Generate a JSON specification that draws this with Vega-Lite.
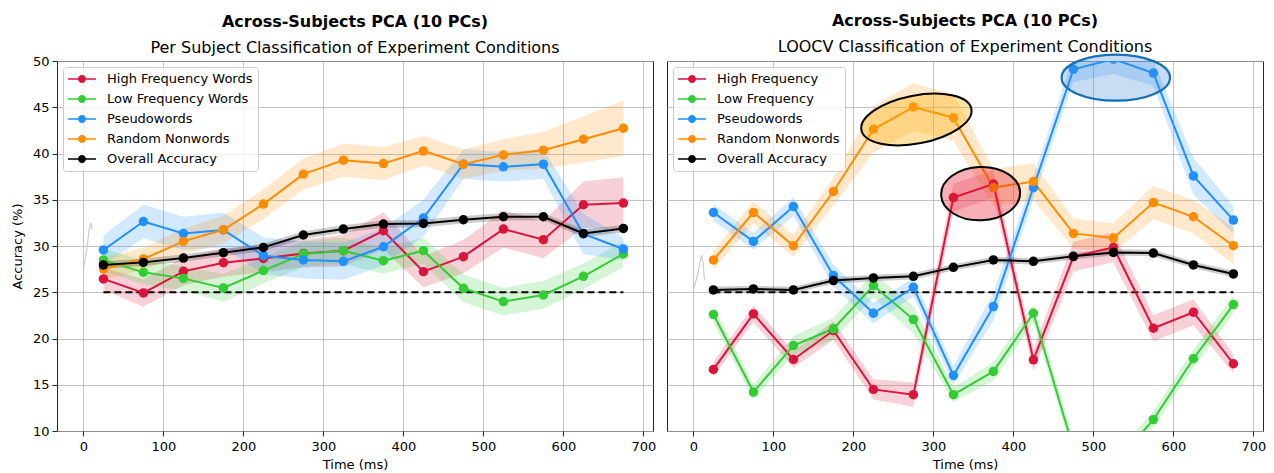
{
  "$schema": "https://vega.github.io/schema/vega-lite/v6.json",
  "padding": {"left": 10, "top": 12, "right": 6, "bottom": 0},
  "config": {
    "font": "DejaVu Sans",
    "view": {"stroke": "#262626", "strokeWidth": 1},
    "axis": {
      "labelFont": "DejaVu Sans", "labelFontSize": 13, "labelColor": "black",
      "titleFont": "DejaVu Sans", "titleFontSize": 13, "titleFontWeight": "normal", "titleColor": "black",
      "tickColor": "#262626", "tickSize": 5, "labelPadding": 3, "domain": false,
      "gridColor": "#b0b0b0", "gridOpacity": 0.75, "gridWidth": 1
    },
    "axisX": {"labelPadding": 4},
    "legend": {
      "orient": "top-left", "offset": 6, "labelFont": "DejaVu Sans", "labelFontSize": 13, "labelColor": "black",
      "fillColor": "rgba(255,255,255,0.8)", "strokeColor": "#cccccc", "cornerRadius": 3, "padding": 5,
      "rowPadding": 6, "labelOffset": 25, "labelLimit": 400,
      "symbolType": "M-1,-0.107H3V0.107H-1Z M1.571,0C1.571,0.316,1.316,0.571,1,0.571C0.684,0.571,0.429,0.316,0.429,0C0.429,-0.316,0.684,-0.571,1,-0.571C1.316,-0.571,1.571,-0.316,1.571,0Z",
      "symbolSize": 196, "symbolStrokeWidth": 0, "symbolOpacity": 1
    },
    "title": {"font": "DejaVu Sans", "fontSize": 16, "fontWeight": "bold", "color": "black", "subtitleFont": "DejaVu Sans", "subtitleFontSize": 16, "subtitleColor": "black", "anchor": "middle", "frame": "group", "subtitlePadding": 10}
  },
  "datasets": {
    "series": [
      {"p":"L","s":"High Frequency Words","x":25,"y":26.44,"lo":25.24,"hi":27.64},
      {"p":"L","s":"High Frequency Words","x":75,"y":24.93,"lo":23.43,"hi":26.43},
      {"p":"L","s":"High Frequency Words","x":125,"y":27.26,"lo":25.76,"hi":28.76},
      {"p":"L","s":"High Frequency Words","x":175,"y":28.2,"lo":26.7,"hi":29.7},
      {"p":"L","s":"High Frequency Words","x":225,"y":28.66,"lo":27.16,"hi":30.16},
      {"p":"L","s":"High Frequency Words","x":275,"y":29.2,"lo":27.7,"hi":30.7},
      {"p":"L","s":"High Frequency Words","x":325,"y":29.49,"lo":27.79,"hi":31.19},
      {"p":"L","s":"High Frequency Words","x":375,"y":31.65,"lo":29.65,"hi":33.65},
      {"p":"L","s":"High Frequency Words","x":425,"y":27.23,"lo":25.53,"hi":28.93},
      {"p":"L","s":"High Frequency Words","x":475,"y":28.85,"lo":27.05,"hi":30.65},
      {"p":"L","s":"High Frequency Words","x":525,"y":31.83,"lo":29.83,"hi":33.83},
      {"p":"L","s":"High Frequency Words","x":575,"y":30.68,"lo":28.68,"hi":32.68},
      {"p":"L","s":"High Frequency Words","x":625,"y":34.46,"lo":31.96,"hi":36.96},
      {"p":"L","s":"High Frequency Words","x":675,"y":34.64,"lo":31.84,"hi":37.44},
      {"p":"L","s":"Low Frequency Words","x":25,"y":28.49,"lo":27.29,"hi":29.69},
      {"p":"L","s":"Low Frequency Words","x":75,"y":27.15,"lo":25.85,"hi":28.45},
      {"p":"L","s":"Low Frequency Words","x":125,"y":26.5,"lo":25.2,"hi":27.8},
      {"p":"L","s":"Low Frequency Words","x":175,"y":25.47,"lo":23.97,"hi":26.97},
      {"p":"L","s":"Low Frequency Words","x":225,"y":27.34,"lo":25.94,"hi":28.74},
      {"p":"L","s":"Low Frequency Words","x":275,"y":29.14,"lo":27.74,"hi":30.54},
      {"p":"L","s":"Low Frequency Words","x":325,"y":29.49,"lo":28.09,"hi":30.89},
      {"p":"L","s":"Low Frequency Words","x":375,"y":28.41,"lo":27.01,"hi":29.81},
      {"p":"L","s":"Low Frequency Words","x":425,"y":29.49,"lo":28.09,"hi":30.89},
      {"p":"L","s":"Low Frequency Words","x":475,"y":25.43,"lo":23.93,"hi":26.93},
      {"p":"L","s":"Low Frequency Words","x":525,"y":23.99,"lo":22.49,"hi":25.49},
      {"p":"L","s":"Low Frequency Words","x":575,"y":24.71,"lo":23.21,"hi":26.21},
      {"p":"L","s":"Low Frequency Words","x":625,"y":26.72,"lo":25.32,"hi":28.12},
      {"p":"L","s":"Low Frequency Words","x":675,"y":29.14,"lo":27.74,"hi":30.54},
      {"p":"L","s":"Pseudowords","x":25,"y":29.57,"lo":27.97,"hi":31.17},
      {"p":"L","s":"Pseudowords","x":75,"y":32.65,"lo":30.85,"hi":34.45},
      {"p":"L","s":"Pseudowords","x":125,"y":31.36,"lo":29.56,"hi":33.16},
      {"p":"L","s":"Pseudowords","x":175,"y":31.73,"lo":29.83,"hi":33.63},
      {"p":"L","s":"Pseudowords","x":225,"y":28.95,"lo":26.95,"hi":30.95},
      {"p":"L","s":"Pseudowords","x":275,"y":28.49,"lo":26.49,"hi":30.49},
      {"p":"L","s":"Pseudowords","x":325,"y":28.34,"lo":26.34,"hi":30.34},
      {"p":"L","s":"Pseudowords","x":375,"y":29.92,"lo":27.92,"hi":31.92},
      {"p":"L","s":"Pseudowords","x":425,"y":33.02,"lo":31.02,"hi":35.02},
      {"p":"L","s":"Pseudowords","x":475,"y":38.85,"lo":37.25,"hi":40.45},
      {"p":"L","s":"Pseudowords","x":525,"y":38.56,"lo":36.96,"hi":40.16},
      {"p":"L","s":"Pseudowords","x":575,"y":38.85,"lo":37.25,"hi":40.45},
      {"p":"L","s":"Pseudowords","x":625,"y":31.3,"lo":29.1,"hi":33.5},
      {"p":"L","s":"Pseudowords","x":675,"y":29.68,"lo":28.48,"hi":30.88},
      {"p":"L","s":"Random Nonwords","x":25,"y":27.52,"lo":26.32,"hi":28.72},
      {"p":"L","s":"Random Nonwords","x":75,"y":28.6,"lo":27.4,"hi":29.8},
      {"p":"L","s":"Random Nonwords","x":125,"y":30.5,"lo":29.1,"hi":31.9},
      {"p":"L","s":"Random Nonwords","x":175,"y":31.76,"lo":30.26,"hi":33.26},
      {"p":"L","s":"Random Nonwords","x":225,"y":34.53,"lo":32.93,"hi":36.13},
      {"p":"L","s":"Random Nonwords","x":275,"y":37.77,"lo":36.07,"hi":39.47},
      {"p":"L","s":"Random Nonwords","x":325,"y":39.28,"lo":37.48,"hi":41.08},
      {"p":"L","s":"Random Nonwords","x":375,"y":38.91,"lo":37.11,"hi":40.71},
      {"p":"L","s":"Random Nonwords","x":425,"y":40.28,"lo":38.68,"hi":41.88},
      {"p":"L","s":"Random Nonwords","x":475,"y":38.85,"lo":37.25,"hi":40.45},
      {"p":"L","s":"Random Nonwords","x":525,"y":39.85,"lo":38.15,"hi":41.55},
      {"p":"L","s":"Random Nonwords","x":575,"y":40.36,"lo":38.36,"hi":42.36},
      {"p":"L","s":"Random Nonwords","x":625,"y":41.54,"lo":39.04,"hi":44.04},
      {"p":"L","s":"Random Nonwords","x":675,"y":42.73,"lo":39.73,"hi":45.73},
      {"p":"L","s":"Overall Accuracy","x":25,"y":27.95,"lo":27.55,"hi":28.35},
      {"p":"L","s":"Overall Accuracy","x":75,"y":28.23,"lo":27.83,"hi":28.63},
      {"p":"L","s":"Overall Accuracy","x":125,"y":28.7,"lo":28.3,"hi":29.1},
      {"p":"L","s":"Overall Accuracy","x":175,"y":29.28,"lo":28.88,"hi":29.68},
      {"p":"L","s":"Overall Accuracy","x":225,"y":29.85,"lo":29.45,"hi":30.25},
      {"p":"L","s":"Overall Accuracy","x":275,"y":31.19,"lo":30.79,"hi":31.59},
      {"p":"L","s":"Overall Accuracy","x":325,"y":31.83,"lo":31.43,"hi":32.23},
      {"p":"L","s":"Overall Accuracy","x":375,"y":32.37,"lo":31.97,"hi":32.77},
      {"p":"L","s":"Overall Accuracy","x":425,"y":32.44,"lo":32.04,"hi":32.84},
      {"p":"L","s":"Overall Accuracy","x":475,"y":32.84,"lo":32.44,"hi":33.24},
      {"p":"L","s":"Overall Accuracy","x":525,"y":33.16,"lo":32.76,"hi":33.56},
      {"p":"L","s":"Overall Accuracy","x":575,"y":33.16,"lo":32.76,"hi":33.56},
      {"p":"L","s":"Overall Accuracy","x":625,"y":31.36,"lo":30.96,"hi":31.76},
      {"p":"L","s":"Overall Accuracy","x":675,"y":31.9,"lo":31.5,"hi":32.3},
      {"p":"R","s":"High Frequency","x":25,"y":16.66,"lo":15.86,"hi":17.46},
      {"p":"R","s":"High Frequency","x":75,"y":22.66,"lo":21.76,"hi":23.56},
      {"p":"R","s":"High Frequency","x":125,"y":17.73,"lo":16.83,"hi":18.63},
      {"p":"R","s":"High Frequency","x":175,"y":20.86,"lo":19.86,"hi":21.86},
      {"p":"R","s":"High Frequency","x":225,"y":14.5,"lo":13.4,"hi":15.6},
      {"p":"R","s":"High Frequency","x":275,"y":13.93,"lo":12.63,"hi":15.23},
      {"p":"R","s":"High Frequency","x":325,"y":35.24,"lo":33.74,"hi":36.74},
      {"p":"R","s":"High Frequency","x":375,"y":36.69,"lo":35.19,"hi":38.19},
      {"p":"R","s":"High Frequency","x":425,"y":17.7,"lo":16.5,"hi":18.9},
      {"p":"R","s":"High Frequency","x":475,"y":28.85,"lo":27.25,"hi":30.45},
      {"p":"R","s":"High Frequency","x":525,"y":29.85,"lo":28.25,"hi":31.45},
      {"p":"R","s":"High Frequency","x":575,"y":21.11,"lo":19.71,"hi":22.51},
      {"p":"R","s":"High Frequency","x":625,"y":22.84,"lo":21.44,"hi":24.24},
      {"p":"R","s":"High Frequency","x":675,"y":17.27,"lo":16.27,"hi":18.27},
      {"p":"R","s":"Low Frequency","x":25,"y":22.59,"lo":21.69,"hi":23.49},
      {"p":"R","s":"Low Frequency","x":75,"y":14.21,"lo":13.41,"hi":15.01},
      {"p":"R","s":"Low Frequency","x":125,"y":19.24,"lo":18.24,"hi":20.24},
      {"p":"R","s":"Low Frequency","x":175,"y":21.05,"lo":19.85,"hi":22.25},
      {"p":"R","s":"Low Frequency","x":225,"y":25.72,"lo":24.42,"hi":27.02},
      {"p":"R","s":"Low Frequency","x":275,"y":22.05,"lo":20.55,"hi":23.55},
      {"p":"R","s":"Low Frequency","x":325,"y":13.93,"lo":13.13,"hi":14.73},
      {"p":"R","s":"Low Frequency","x":375,"y":16.44,"lo":15.44,"hi":17.44},
      {"p":"R","s":"Low Frequency","x":425,"y":22.73,"lo":21.73,"hi":23.73},
      {"p":"R","s":"Low Frequency","x":475,"y":8.1,"lo":7.1,"hi":9.1},
      {"p":"R","s":"Low Frequency","x":525,"y":6.3,"lo":5.3,"hi":7.3},
      {"p":"R","s":"Low Frequency","x":575,"y":11.23,"lo":10.33,"hi":12.13},
      {"p":"R","s":"Low Frequency","x":625,"y":17.81,"lo":16.81,"hi":18.81},
      {"p":"R","s":"Low Frequency","x":675,"y":23.67,"lo":22.67,"hi":24.67},
      {"p":"R","s":"Pseudowords","x":25,"y":33.62,"lo":32.72,"hi":34.52},
      {"p":"R","s":"Pseudowords","x":75,"y":30.5,"lo":29.6,"hi":31.4},
      {"p":"R","s":"Pseudowords","x":125,"y":34.27,"lo":33.27,"hi":35.27},
      {"p":"R","s":"Pseudowords","x":175,"y":26.8,"lo":25.6,"hi":28.0},
      {"p":"R","s":"Pseudowords","x":225,"y":22.73,"lo":21.63,"hi":23.83},
      {"p":"R","s":"Pseudowords","x":275,"y":25.53,"lo":24.53,"hi":26.53},
      {"p":"R","s":"Pseudowords","x":325,"y":16.0,"lo":15.0,"hi":17.0},
      {"p":"R","s":"Pseudowords","x":375,"y":23.45,"lo":21.95,"hi":24.95},
      {"p":"R","s":"Pseudowords","x":425,"y":36.32,"lo":35.12,"hi":37.52},
      {"p":"R","s":"Pseudowords","x":475,"y":49.1,"lo":47.7,"hi":50.5},
      {"p":"R","s":"Pseudowords","x":525,"y":50.2,"lo":48.6,"hi":51.8},
      {"p":"R","s":"Pseudowords","x":575,"y":48.7,"lo":47.3,"hi":50.1},
      {"p":"R","s":"Pseudowords","x":625,"y":37.58,"lo":35.58,"hi":39.58},
      {"p":"R","s":"Pseudowords","x":675,"y":32.8,"lo":31.3,"hi":34.3},
      {"p":"R","s":"Random Nonwords","x":25,"y":28.49,"lo":27.49,"hi":29.49},
      {"p":"R","s":"Random Nonwords","x":75,"y":33.62,"lo":32.42,"hi":34.82},
      {"p":"R","s":"Random Nonwords","x":125,"y":30.03,"lo":28.83,"hi":31.23},
      {"p":"R","s":"Random Nonwords","x":175,"y":35.89,"lo":34.39,"hi":37.39},
      {"p":"R","s":"Random Nonwords","x":225,"y":42.62,"lo":40.12,"hi":45.12},
      {"p":"R","s":"Random Nonwords","x":275,"y":45.03,"lo":42.43,"hi":47.63},
      {"p":"R","s":"Random Nonwords","x":325,"y":43.87,"lo":41.37,"hi":46.37},
      {"p":"R","s":"Random Nonwords","x":375,"y":36.32,"lo":34.32,"hi":38.32},
      {"p":"R","s":"Random Nonwords","x":425,"y":36.97,"lo":34.97,"hi":38.97},
      {"p":"R","s":"Random Nonwords","x":475,"y":31.36,"lo":29.76,"hi":32.96},
      {"p":"R","s":"Random Nonwords","x":525,"y":30.86,"lo":29.26,"hi":32.46},
      {"p":"R","s":"Random Nonwords","x":575,"y":34.7,"lo":32.9,"hi":36.5},
      {"p":"R","s":"Random Nonwords","x":625,"y":33.16,"lo":31.36,"hi":34.96},
      {"p":"R","s":"Random Nonwords","x":675,"y":30.03,"lo":28.03,"hi":32.03},
      {"p":"R","s":"Overall Accuracy","x":25,"y":25.25,"lo":24.9,"hi":25.6},
      {"p":"R","s":"Overall Accuracy","x":75,"y":25.36,"lo":25.01,"hi":25.71},
      {"p":"R","s":"Overall Accuracy","x":125,"y":25.25,"lo":24.9,"hi":25.6},
      {"p":"R","s":"Overall Accuracy","x":175,"y":26.26,"lo":25.91,"hi":26.61},
      {"p":"R","s":"Overall Accuracy","x":225,"y":26.55,"lo":26.2,"hi":26.9},
      {"p":"R","s":"Overall Accuracy","x":275,"y":26.72,"lo":26.37,"hi":27.07},
      {"p":"R","s":"Overall Accuracy","x":325,"y":27.69,"lo":27.34,"hi":28.04},
      {"p":"R","s":"Overall Accuracy","x":375,"y":28.49,"lo":28.14,"hi":28.84},
      {"p":"R","s":"Overall Accuracy","x":425,"y":28.34,"lo":27.99,"hi":28.69},
      {"p":"R","s":"Overall Accuracy","x":475,"y":28.88,"lo":28.53,"hi":29.23},
      {"p":"R","s":"Overall Accuracy","x":525,"y":29.31,"lo":28.96,"hi":29.66},
      {"p":"R","s":"Overall Accuracy","x":575,"y":29.24,"lo":28.89,"hi":29.59},
      {"p":"R","s":"Overall Accuracy","x":625,"y":27.95,"lo":27.6,"hi":28.3},
      {"p":"R","s":"Overall Accuracy","x":675,"y":26.98,"lo":26.63,"hi":27.33}
    ],
    "chance": [
      {"x": 25, "y": 25}, {"x": 675, "y": 25}
    ],
    "artifact": [
      {"p":"L","x":0,"y":27.5},{"p":"L","x":4,"y":29.5},{"p":"L","x":7,"y":31.6},{"p":"L","x":9,"y":32.5},{"p":"L","x":11,"y":31.8},
      {"p":"R","x":0,"y":25.2},{"p":"R","x":6,"y":27.2},{"p":"R","x":10,"y":29.0},{"p":"R","x":12,"y":28.2},{"p":"R","x":14,"y":26.3}
    ],
    "ellipses": [
      {"k":"orange","x":278.75,"y":43.68},
      {"k":"red","x":359,"y":35.66},
      {"k":"blue","x":528,"y":48.2}
    ]
  },
  "hconcat": [
    {
      "width": 596, "height": 370,
      "title": {"text": "Across-Subjects PCA (10 PCs)", "subtitle": "Per Subject Classification of Experiment Conditions", "offset": -1},
      "encoding": {
        "x": {"field": "x", "type": "quantitative", "scale": {"domain": [-33, 712], "nice": false, "zero": false}, "axis": {"values": [0,100,200,300,400,500,600,700], "title": "Time (ms)", "titlePadding": 5}},
        "y": {"field": "y", "type": "quantitative", "scale": {"domain": [10, 50], "nice": false, "zero": false}, "axis": {"values": [10,15,20,25,30,35,40,45,50], "title": "Accuracy (%)", "titlePadding": 8}}
      },
      "layer": [
        {"data": {"name": "artifact"}, "transform": [{"filter": "datum.p === 'L'"}], "mark": {"type": "line", "color": "#cccccc", "strokeWidth": 1.2, "clip": true}, "encoding": {}},
        {"data": {"name": "series"}, "transform": [{"filter": "datum.p === 'L'"}],
         "mark": {"type": "area", "clip": true},
         "encoding": {
           "y": {"field": "lo", "type": "quantitative", "scale": {"domain": [10, 50], "nice": false, "zero": false}, "axis": {"values": [10,15,20,25,30,35,40,45,50], "title": "Accuracy (%)", "titlePadding": 8}},
           "y2": {"field": "hi"},
           "fill": {"field": "s", "type": "nominal", "scale": {"range": ["crimson","limegreen","black","dodgerblue","darkorange"]}, "legend": null},
           "fillOpacity": {"field": "s", "type": "nominal", "scale": {"range": [0.2, 0.2, 0.07, 0.2, 0.2]}, "legend": null}
         }},
        {"data": {"name": "chance"}, "mark": {"type": "line", "color": "black", "strokeWidth": 2, "strokeDash": [7, 4]}, "encoding": {}},
        {"data": {"name": "series"}, "transform": [{"filter": "datum.p === 'L'"}],
         "mark": {"type": "line", "strokeWidth": 2, "clip": true},
         "encoding": {"stroke": {"field": "s", "type": "nominal", "scale": {"range": ["crimson","limegreen","black","dodgerblue","darkorange"]}, "legend": null}}},
        {"data": {"name": "series"}, "transform": [{"filter": "datum.p === 'L'"}],
         "mark": {"type": "point", "filled": true, "size": 90, "opacity": 1, "clip": true},
         "encoding": {"color": {"field": "s", "type": "nominal", "scale": {"domain": ["High Frequency Words","Low Frequency Words","Pseudowords","Random Nonwords","Overall Accuracy"], "range": ["crimson","limegreen","dodgerblue","darkorange","black"]}, "legend": {"title": null}}}}
      ]
    },
    {
      "width": 596, "height": 370,
      "title": {"text": "Across-Subjects PCA (10 PCs)", "subtitle": "LOOCV Classification of Experiment Conditions", "offset": -5},
      "encoding": {
        "x": {"field": "x", "type": "quantitative", "scale": {"domain": [-33, 712], "nice": false, "zero": false}, "axis": {"values": [0,100,200,300,400,500,600,700], "title": "Time (ms)", "titlePadding": 5}},
        "y": {"field": "y", "type": "quantitative", "scale": {"domain": [10, 50], "nice": false, "zero": false}, "axis": {"values": [10,15,20,25,30,35,40,45,50], "labels": false, "ticks": false, "title": null}}
      },
      "layer": [
        {"data": {"name": "artifact"}, "transform": [{"filter": "datum.p === 'R'"}], "mark": {"type": "line", "color": "#cccccc", "strokeWidth": 1.2, "clip": true}, "encoding": {}},
        {"data": {"name": "series"}, "transform": [{"filter": "datum.p === 'R'"}],
         "mark": {"type": "area", "clip": true},
         "encoding": {
           "y": {"field": "lo", "type": "quantitative", "scale": {"domain": [10, 50], "nice": false, "zero": false}, "axis": {"values": [10,15,20,25,30,35,40,45,50], "labels": false, "ticks": false, "title": null}},
           "y2": {"field": "hi"},
           "fill": {"field": "s", "type": "nominal", "scale": {"range": ["crimson","limegreen","black","dodgerblue","darkorange"]}, "legend": null},
           "fillOpacity": {"field": "s", "type": "nominal", "scale": {"range": [0.2, 0.2, 0.07, 0.2, 0.2]}, "legend": null}
         }},
        {"data": {"name": "chance"}, "mark": {"type": "line", "color": "black", "strokeWidth": 2, "strokeDash": [7, 4]}, "encoding": {}},
        {"data": {"name": "series"}, "transform": [{"filter": "datum.p === 'R'"}],
         "mark": {"type": "line", "strokeWidth": 2, "clip": true},
         "encoding": {"stroke": {"field": "s", "type": "nominal", "scale": {"range": ["crimson","limegreen","black","dodgerblue","darkorange"]}, "legend": null}}},
        {"data": {"name": "series"}, "transform": [{"filter": "datum.p === 'R'"}],
         "mark": {"type": "point", "filled": true, "size": 90, "opacity": 1, "clip": true},
         "encoding": {"color": {"field": "s", "type": "nominal", "scale": {"domain": ["High Frequency","Low Frequency","Pseudowords","Random Nonwords","Overall Accuracy"], "range": ["crimson","limegreen","dodgerblue","darkorange","black"]}, "legend": {"title": null}}}},
        {"data": {"name": "ellipses"}, "transform": [{"filter": "datum.k === 'orange'"}],
         "mark": {"type": "point", "shape": "M1,0C1,0.2367,0.5523,0.4286,0,0.4286C-0.5523,0.4286,-1,0.2367,-1,0C-1,-0.2367,-0.5523,-0.4286,0,-0.4286C0.5523,-0.4286,1,-0.2367,1,0Z", "size": 12544, "angle": -11, "filled": true, "fill": "#ffb000", "fillOpacity": 0.35, "stroke": "black", "strokeWidth": 2, "opacity": 1},
         "encoding": {}},
        {"data": {"name": "ellipses"}, "transform": [{"filter": "datum.k === 'red'"}],
         "mark": {"type": "point", "shape": "M1,0C1,0.3733,0.5523,0.676,0,0.676C-0.5523,0.676,-1,0.3733,-1,0C-1,-0.3733,-0.5523,-0.676,0,-0.676C0.5523,-0.676,1,-0.3733,1,0Z", "size": 6241, "angle": -2, "filled": true, "fill": "#e8192c", "fillOpacity": 0.35, "stroke": "black", "strokeWidth": 2, "opacity": 1},
         "encoding": {}},
        {"data": {"name": "ellipses"}, "transform": [{"filter": "datum.k === 'blue'"}],
         "mark": {"type": "point", "shape": "M1,0C1,0.2344,0.5523,0.4244,0,0.4244C-0.5523,0.4244,-1,0.2344,-1,0C-1,-0.2344,-0.5523,-0.4244,0,-0.4244C0.5523,-0.4244,1,-0.2344,1,0Z", "size": 11751, "angle": 0, "filled": true, "fill": "#4a90d9", "fillOpacity": 0.3, "stroke": "#1470b8", "strokeWidth": 2.2, "opacity": 1},
         "encoding": {}}
      ]
    }
  ],
  "spacing": 14,
  "bounds": "flush",
  "resolve": {"scale": {"color": "independent", "fill": "independent", "stroke": "independent", "fillOpacity": "independent", "x": "independent", "y": "independent"}, "legend": {"color": "independent"}}
}
